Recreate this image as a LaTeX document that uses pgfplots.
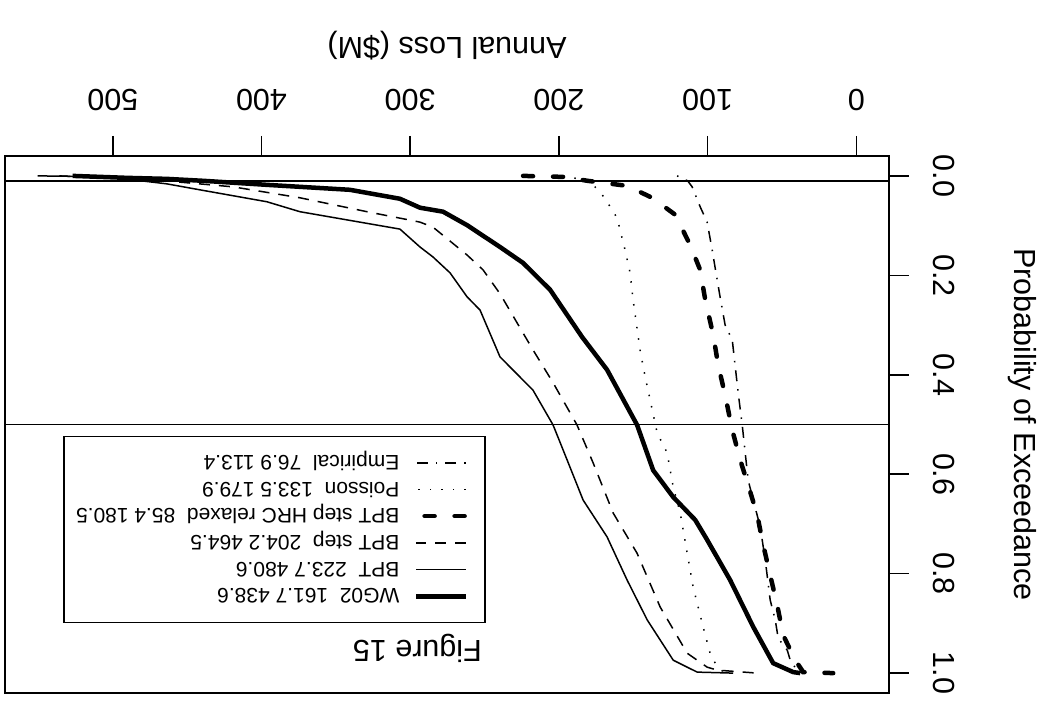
\documentclass[border=0pt]{standalone}
\usepackage{pgfplots}
\pgfplotsset{compat=1.18}
\usepackage{fontspec}
\setmainfont{Liberation Sans}
\setsansfont{Liberation Sans}
\begin{document}
\begin{tikzpicture}
\begin{axis}[
  scale only axis, width=884pt, height=537pt,
  xmin=-22, xmax=572.5, ymin=-0.04, ymax=1.04,
  x dir=reverse, y dir=reverse,
  axis line style={line width=1.8pt},
  xtick={0,100,200,300,400,500}, ytick={0,0.2,0.4,0.6,0.8,1},
  xtick pos=upper, xticklabel pos=upper, ytick pos=upper, yticklabel pos=upper,
  tick align=outside, major tick length=20pt,
  every tick/.style={black, line width=1.5pt},
  /pgf/number format/assume math mode=true,
  tick label style={font=\normalfont\fontsize{30.5}{36}\selectfont, inner sep=0pt},
  xticklabel style={rotate=180, anchor=north},
  yticklabel style={rotate=-90, anchor=south},
  yticklabel style={/pgf/number format/fixed, /pgf/number format/fixed zerofill, /pgf/number format/precision=1},
  xticklabel shift=25pt, yticklabel shift=24pt,
  every axis x label/.style={at={(axis description cs:0.5,1.2048)}, anchor=center, rotate=180, font=\normalfont\fontsize{30.5}{36}\selectfont},
  every axis y label/.style={at={(axis description cs:1.151,0.5)}, anchor=center, rotate=-90, font=\normalfont\fontsize{30.5}{36}\selectfont},
  xlabel={Annual Loss (\$M)}, ylabel={Probability of Exceedance},
]
\addplot[black, line width=1.8pt] coordinates {(-22,0.01) (572.5,0.01)};
\addplot[black, line width=1.8pt] coordinates {(-22,0.5) (572.5,0.5)};

% WG02
\addplot[black, line width=4.5pt, line join=round, mark=none] coordinates {
(527,0) (490,0.004) (463.7,0.006) (438.6,0.01) (396.4,0.018) (340.5,0.028) (306.9,0.046)
(293.4,0.064) (277.9,0.072) (261.8,0.099) (239.6,0.143) (224.1,0.175) (205.9,0.229)
(184.4,0.324) (167.6,0.390) (147.4,0.501) (136.6,0.592) (123.1,0.646) (108.3,0.692)
(100.3,0.732) (84.8,0.813) (69.3,0.907) (55.9,0.980) (42.4,0.998) (37.7,1.0)};

% BPT
\addplot[black, line width=1.5pt, line join=round, mark=none] coordinates {
(550.5,0) (495,0.002) (480.6,0.01) (463.7,0.016) (441.5,0.028) (396.4,0.052) (374.2,0.072)
(306.9,0.107) (293.4,0.143) (284.7,0.163) (273.2,0.195) (261.8,0.243) (253.0,0.270)
(239.6,0.364) (217.4,0.431) (203.9,0.501) (194.5,0.571) (183.7,0.652) (167.6,0.726)
(154.1,0.813) (140.6,0.893) (123.1,0.974) (107.0,0.998) (82.8,1.0)};

% BPT step
\addplot[black, line width=1.5pt, dash pattern=on 11pt off 9pt, mark=none] coordinates {
(536,0) (464.5,0.01) (419.2,0.022) (374.2,0.044) (329.1,0.072) (306.9,0.085) (293.4,0.093)
(284.7,0.103) (261.8,0.159) (251.0,0.189) (239.6,0.237) (224.1,0.316) (217.4,0.350)
(203.9,0.416) (187.8,0.501) (177.0,0.577) (163.5,0.678) (147.4,0.759) (131.9,0.867)
(113.7,0.960) (100.3,0.988) (93.5,0.994) (66.6,1.0)};

% BPT step HRC relaxed
\addplot[black, line width=4.5pt, line cap=round, dash pattern=on 10pt off 20pt, mark=none] coordinates {
(224.1,0) (197.2,0.002) (180.5,0.01) (154.1,0.02) (137.3,0.044) (121.8,0.078) (111.7,0.139)
(105.0,0.189) (101.6,0.249) (96.2,0.320) (92.9,0.380) (88.2,0.441) (83.4,0.511) (78.1,0.571)
(72.7,0.622) (66.6,0.682) (62.6,0.742) (57.9,0.803) (53.2,0.863) (49.1,0.924) (41.0,0.974)
(35.7,0.998) (15.5,1.0)};

% Poisson
\addplot[black, line width=1.5pt, dash pattern=on 1.5pt off 10pt, mark=none] coordinates {
(197.2,0) (179.9,0.01) (172.3,0.032) (167.6,0.052) (160.8,0.085) (155.5,0.149) (152.1,0.195)
(150.1,0.249) (145.4,0.350) (142.0,0.404) (138.6,0.451) (133.9,0.517) (127.2,0.557)
(123.1,0.626) (118.4,0.678) (113.7,0.759) (109.7,0.827) (103.0,0.907) (98.3,0.960)
(93.5,0.988) (88.2,1.0)};

% Empirical
\addplot[black, line width=1.5pt, dash pattern=on 1.5pt off 8pt on 11pt off 8pt, mark=none] coordinates {
(120.5,0) (113.4,0.01) (110.4,0.022) (105.0,0.062) (100.3,0.093) (96.9,0.149) (94.9,0.185)
(91.5,0.245) (88.2,0.300) (83.4,0.330) (79.4,0.437) (76.7,0.501) (74.7,0.557) (72.7,0.612)
(69.3,0.652) (64.6,0.706) (61.2,0.773) (57.9,0.853) (54.5,0.893) (52.5,0.930) (46.4,0.954)
(44.4,0.974) (39.0,0.998) (34.3,1.0)};

\coordinate (legc) at (axis cs:391.3,0.7113);
\coordinate (figt) at (axis cs:251.7,0.9336);
\end{axis}
\node[rotate=180, anchor=base west, inner sep=0pt, font=\normalfont\fontsize{30.5}{36}\selectfont] at (figt) {Figure 15};
\node[rotate=180, anchor=center, draw=black, line width=1.5pt, fill=white, inner xsep=0pt, inner ysep=13pt,
  font=\normalfont\fontsize{21}{25}\selectfont] at (legc) {%
\def\arraystretch{0.5}%
\begin{tabular}{@{\hspace{17pt}}c@{\hspace{14pt}}l@{\hspace{12pt}}}
\tikz[baseline={(0pt,-7.5pt)}]{\draw[black,line width=4.5pt] (0pt,0pt) -- (50pt,0pt);} & \rule[-5.85pt]{0pt}{26.7pt}WG02\ \ 161.7 438.6\\
\tikz[baseline={(0pt,-7.5pt)}]{\draw[black,line width=1.5pt] (0pt,0pt) -- (50pt,0pt);} & \rule[-5.85pt]{0pt}{26.7pt}BPT\ \ 223.7 480.6\\
\tikz[baseline={(0pt,-7.5pt)}]{\draw[black,line width=1.5pt,dash pattern=on 11pt off 9pt] (0pt,0pt) -- (50pt,0pt);} & \rule[-5.85pt]{0pt}{26.7pt}BPT step\ \ 204.2 464.5\\
\tikz[baseline={(0pt,-7.5pt)}]{\draw[black,line width=4.5pt,line cap=round,dash pattern=on 10pt off 20pt] (2pt,0pt) -- (50pt,0pt);} & \rule[-5.85pt]{0pt}{26.7pt}BPT step HRC relaxed\ \ 85.4 180.5\\
\tikz[baseline={(0pt,-7.5pt)}]{\draw[black,line width=1.5pt,dash pattern=on 1.5pt off 10pt] (0pt,0pt) -- (50pt,0pt);} & \rule[-5.85pt]{0pt}{26.7pt}Poisson\ \ 133.5 179.9\\
\tikz[baseline={(0pt,-7.5pt)}]{\draw[black,line width=1.5pt,dash pattern=on 1.5pt off 8pt on 11pt off 8pt] (0pt,0pt) -- (50pt,0pt);} & \rule[-5.85pt]{0pt}{26.7pt}Empirical\ \ 76.9 113.4
\end{tabular}};
\pgfresetboundingbox
\path[use as bounding box] ([shift={(-5pt,-8pt)}]current axis.south west) rectangle ([shift={(149pt,156pt)}]current axis.north east);
\end{tikzpicture}
\end{document}
